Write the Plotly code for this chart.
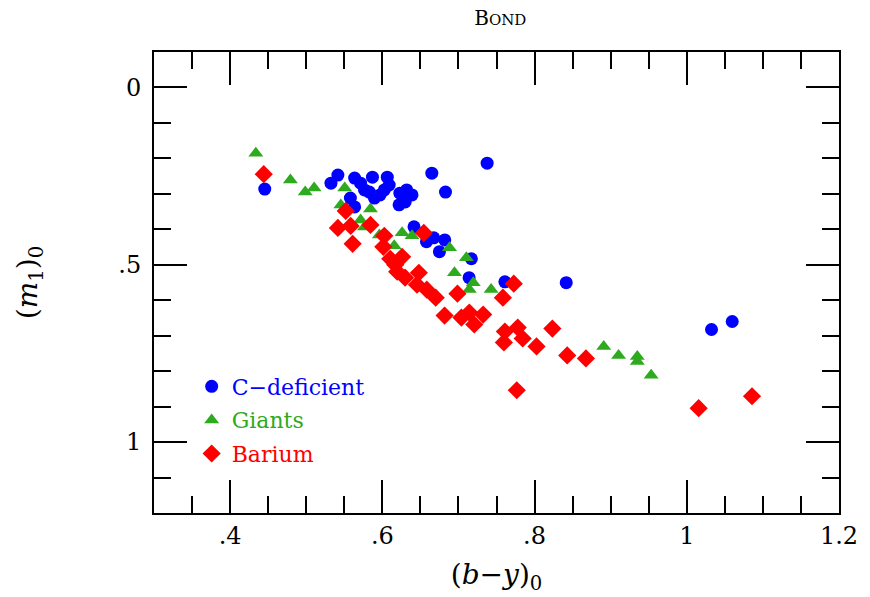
import plotly.graph_objects as go

# C-deficient stars
cdef_x = [0.4455, 0.5325, 0.5416, 0.5636, 0.5714, 0.5766, 0.583, 0.587, 0.5896, 0.558,
          0.5636, 0.597, 0.6065, 0.609, 0.6026, 0.623, 0.632, 0.639, 0.622, 0.630,
          0.665, 0.683, 0.7377, 0.6416, 0.658, 0.6675, 0.682, 0.675, 0.717, 0.714,
          0.761, 0.8416, 1.0325, 1.0597]
cdef_y = [0.2865, 0.270, 0.247, 0.2556, 0.270, 0.289, 0.295, 0.253, 0.312, 0.312,
          0.337, 0.303, 0.253, 0.275, 0.289, 0.298, 0.289, 0.303, 0.331, 0.323,
          0.2416, 0.295, 0.2135, 0.393, 0.435, 0.424, 0.430, 0.463, 0.483, 0.5365,
          0.548, 0.5506, 0.6826, 0.660]

# Giants
giant_x = [0.4338, 0.4792, 0.4987, 0.5104, 0.5506, 0.5455, 0.5844, 0.5714, 0.5766, 0.5961,
           0.626, 0.639, 0.6156, 0.6883, 0.7104, 0.6948, 0.7195, 0.7143, 0.7429, 0.8909,
           0.9104, 0.935, 0.935, 0.9532]
giant_y = [0.1854, 0.2612, 0.2949, 0.2837, 0.2837, 0.3315, 0.3427, 0.3736, 0.3933, 0.4157,
           0.410, 0.4185, 0.4466, 0.4522, 0.4803, 0.5225, 0.5506, 0.570, 0.570, 0.7303,
           0.7556, 0.7584, 0.7725, 0.8118]

# Barium stars
bar_x = [0.4442, 0.5416, 0.5519, 0.5584, 0.561, 0.5844, 0.6026, 0.6013, 0.6104, 0.626,
         0.6195, 0.6169, 0.6299, 0.648, 0.6455, 0.6545, 0.6584, 0.6701, 0.6818, 0.6987,
         0.7039, 0.7143, 0.7325, 0.7208, 0.7584, 0.7727, 0.761, 0.7779, 0.7597, 0.7844,
         0.8026, 0.8234, 0.8429, 0.8675, 0.7766, 1.0156, 1.0857]
bar_y = [0.2444, 0.3961, 0.3483, 0.3904, 0.441, 0.3876, 0.4185, 0.4494, 0.4831, 0.4775,
         0.5197, 0.500, 0.5365, 0.5225, 0.5562, 0.4101, 0.5702, 0.5927, 0.6433, 0.5815,
         0.6489, 0.6348, 0.6404, 0.6685, 0.5927, 0.5534, 0.6882, 0.677, 0.7191, 0.7079,
         0.7303, 0.6798, 0.7556, 0.764, 0.8539, 0.9045, 0.8708]

x_tickvals = [0.4, 0.6, 0.8, 1.0, 1.2]
x_ticktext = [".4", ".6", ".8", "1", "1.2"]
y_tickvals = [0, 0.5, 1.0]
y_ticktext = ["0", ".5", "1"]

BLUE = "#0000ff"
GREEN = "#2eaa1e"
RED = "#ff0000"
FONT = "DejaVu Serif"

fig = go.Figure()
fig.add_trace(go.Scatter(x=cdef_x, y=cdef_y, mode="markers", legendgroup="a",
                         name=f"<span style='color:{BLUE}'>C\u2212deficient</span>",
                         marker=dict(symbol="circle", size=13, color=BLUE)))
fig.add_trace(go.Scatter(x=giant_x, y=giant_y, mode="markers", legendgroup="b",
                         name=f"<span style='color:{GREEN}'>Giants</span>",
                         marker=dict(symbol="triangle-up", size=13, color=GREEN)))
fig.add_trace(go.Scatter(x=bar_x, y=bar_y, mode="markers", legendgroup="c",
                         name=f"<span style='color:{RED}'>Barium</span>",
                         marker=dict(symbol="diamond", size=14, color=RED)))

axis_common = dict(showline=True, linewidth=2, linecolor="black", mirror="allticks",
                   ticks="inside", ticklen=33, tickwidth=2, tickcolor="black",
                   showgrid=False, zeroline=False,
                   tickfont=dict(family=FONT, size=24, color="black"))

fig.update_xaxes(range=[0.3, 1.2], tickvals=x_tickvals, ticktext=x_ticktext,
                 minor=dict(dtick=0.05, tick0=0.3, ticklen=17, tickwidth=2, ticks="inside",
                            tickcolor="black", showgrid=False),
                 title=dict(text="(<i>b</i>\u2212<i>y</i>)<sub>0</sub>",
                            font=dict(family=FONT, size=28, color="black"), standoff=16),
                 **axis_common)
fig.update_yaxes(range=[1.2, -0.1], tickvals=y_tickvals, ticktext=y_ticktext,
                 minor=dict(dtick=0.1, tick0=0, ticklen=17, tickwidth=2, ticks="inside",
                            tickcolor="black", showgrid=False),
                 ticklabelstandoff=6,
                 title=dict(text="(<i>m</i><sub>1</sub>)<sub>0</sub>",
                            font=dict(family=FONT, size=28, color="black"), standoff=72),
                 **axis_common)

fig.update_layout(
    width=870, height=597,
    margin=dict(l=154, r=24, t=52, b=84),
    plot_bgcolor="white", paper_bgcolor="white",
    title=dict(text="B<span style='font-size:15px'>OND</span>", x=0.575, xanchor="center",
               y=0.97, yanchor="middle", font=dict(family=FONT, size=20, color="black")),
    legend=dict(x=0.055, y=0.32, xanchor="left", yanchor="top",
                font=dict(family=FONT, size=22), bgcolor="rgba(0,0,0,0)",
                itemwidth=30, tracegroupgap=2),
    showlegend=True,
)

fig.write_html("out.html")
